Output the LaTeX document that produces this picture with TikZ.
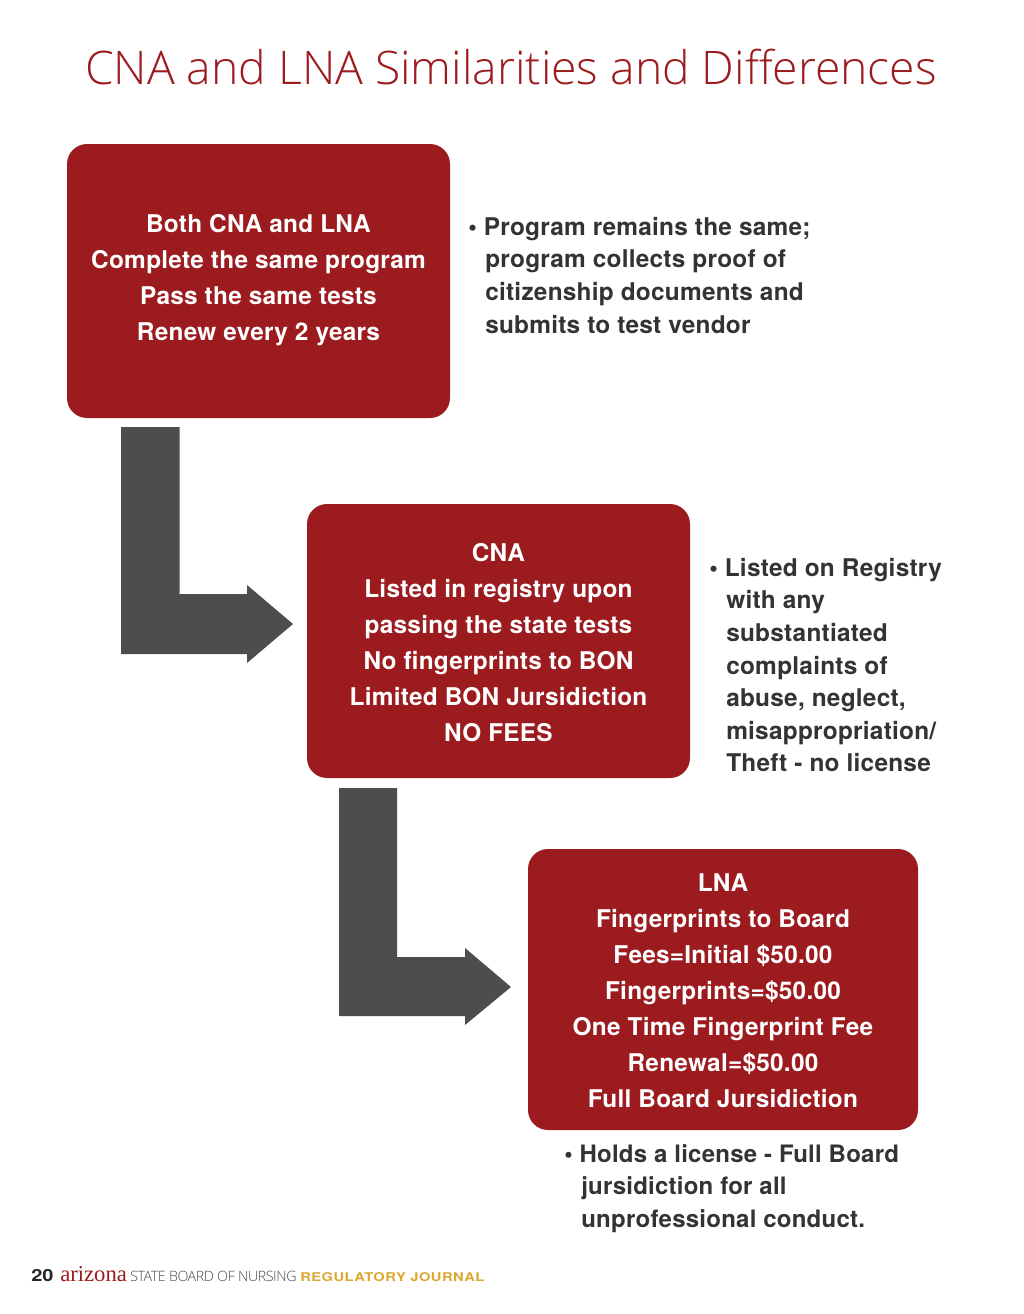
\documentclass[tikz,border=0pt]{standalone}
\usepackage{fontspec}
\setmainfont{TeX Gyre Heros}
\newfontfamily\titlefont{Open Sans Light}
\newfontfamily\serifx{Liberation Serif}
\newfontfamily\widefont[FakeStretch=1.22,LetterSpace=4]{TeX Gyre Heros}
\newfontfamily\pagefont[FakeStretch=1.2]{TeX Gyre Heros}
\newfontfamily\boardfont[LetterSpace=-3]{Open Sans Light}
\newfontfamily\bodyfont[LetterSpace=1]{TeX Gyre Heros}
\definecolor{boxred}{HTML}{9C1B1F}
\definecolor{arrowgrey}{HTML}{4D4D4D}
\definecolor{bodyink}{HTML}{333333}
\definecolor{gold}{HTML}{DBA72E}
\tikzset{x=0.75pt,y=-0.75pt,
  redbox/.style={fill=boxred,draw=none,rounded corners=15pt},
  boxtext/.style={text=white,font=\bodyfont\fontsize{18.3}{27}\selectfont\bfseries,align=center,inner sep=0pt},
  note/.style={text=bodyink,font=\bodyfont\fontsize{18.3}{24.4}\selectfont\bfseries,align=left,anchor=north west,inner sep=0pt},
  elbow/.style={fill=arrowgrey,draw=none}}
\begin{document}
\begin{tikzpicture}
\useasboundingbox (0,0) rectangle (1024,1314);
\fill[white] (0,0) rectangle (1024,1314);
\node[text=boxred,font=\titlefont\fontsize{34.7}{40}\selectfont,inner sep=0pt] (title) at (511,67) {CNA and LNA Similarities and Differences};
\path[redbox] (67,144) rectangle (450,418);
\node[boxtext] (b1) at (258.5,280.5) {Both CNA and LNA\\Complete the same program\\Pass the same tests\\Renew every 2 years};
\path[redbox] (307,504) rectangle (690,778);
\node[boxtext] (b2) at (498.5,643) {CNA\\Listed in registry upon\\passing the state tests\\No fingerprints to BON\\Limited BON Jursidiction\\NO FEES};
\path[redbox] (528,849) rectangle (918,1130);
\node[boxtext] (b3) at (723,991) {LNA\\Fingerprints to Board\\Fees=Initial \$50.00\\Fingerprints=\$50.00\\One Time Fingerprint Fee\\Renewal=\$50.00\\Full Board Jursidiction};
\path[elbow] (121,427)--(179.5,427)--(179.5,594)--(247,594)--(247,585)--(293,624)--(247,663)--(247,654)--(121,654)--cycle;
\path[elbow] (339,788)--(397,788)--(397,957)--(465,957)--(465,948)--(511,987)--(465,1025)--(465,1016)--(339,1016)--cycle;
\node[note] (n1) at (468,217) {• Program remains the same;\\\hspace*{12.75pt}program collects proof of\\\hspace*{12.75pt}citizenship documents and\\\hspace*{12.75pt}submits to test vendor};
\node[note] (n2) at (709,558) {• Listed on Registry\\\hspace*{12.75pt}with any\\\hspace*{12.75pt}substantiated\\\hspace*{12.75pt}complaints of\\\hspace*{12.75pt}abuse, neglect,\\\hspace*{12.75pt}misappropriation/\\\hspace*{12.75pt}Theft - no license};
\node[note,font=\bodyfont\fontsize{18}{24.4}\selectfont\bfseries] (n3) at (564,1144) {• Holds a license - Full Board\\\hspace*{12.75pt}jursidiction for all\\\hspace*{12.75pt}unprofessional conduct.};
\node[anchor=base west,inner sep=0pt,text=black!85,font=\pagefont\fontsize{12.5}{14}\selectfont\bfseries] (pg) at (31,1281) {20};
\node[anchor=base west,inner sep=0pt,text=boxred,font=\serifx\fontsize{17}{18}\selectfont] (az) at (60,1281) {arizona};
\node[anchor=base west,inner sep=0pt,text=black!70,font=\boardfont\fontsize{10.7}{12}\selectfont] (sb) at (130,1281) {STATE BOARD OF NURSING};
\node[anchor=base west,inner sep=0pt,text=gold,font=\widefont\fontsize{9.05}{12}\selectfont\bfseries] (rj) at (300,1281) {REGULATORY JOURNAL};
\end{tikzpicture}
\end{document}
